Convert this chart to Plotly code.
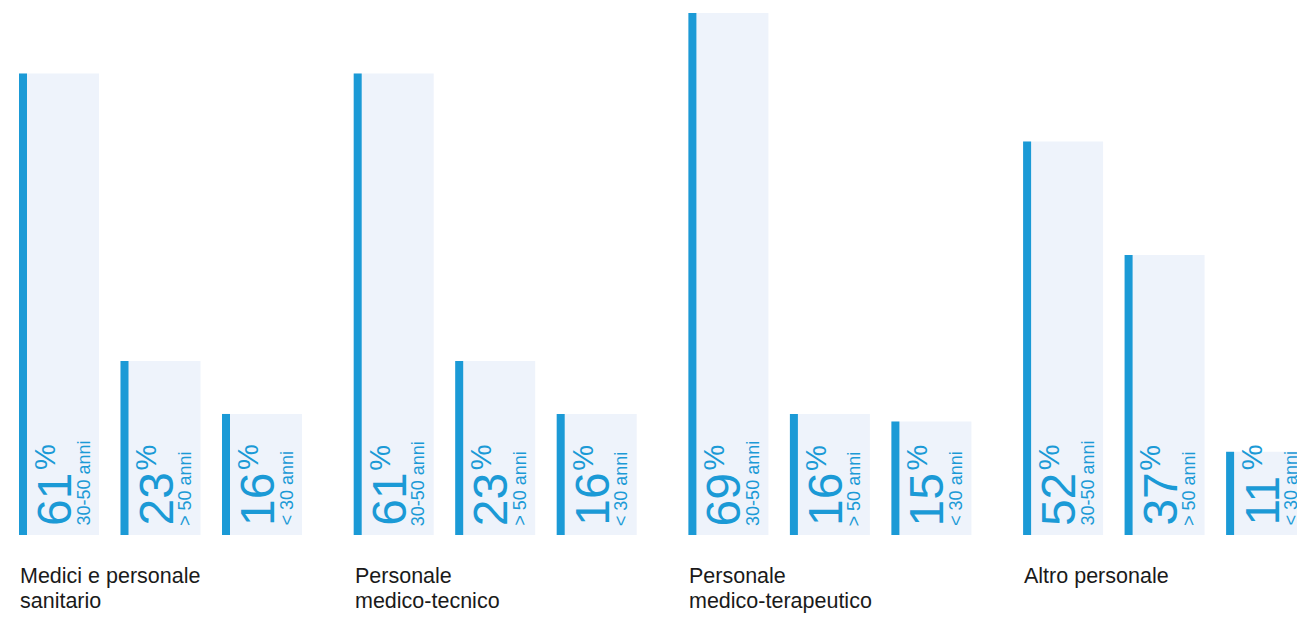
import plotly.graph_objects as go

groups = ["Medici e personale<br>sanitario", "Personale<br>medico-tecnico",
          "Personale<br>medico-terapeutico", "Altro personale"]
age_labels = ["30-50 anni", "> 50 anni", "< 30 anni"]
values = [
    [61, 23, 16],
    [61, 23, 16],
    [69, 16, 15],
    [52, 37, 11],
]

BLUE = "#1b9ad6"
FILL = "#eef3fb"
FONT = "Liberation Sans, Arial, Helvetica, sans-serif"

W, H = 1297, 617
GROUP_STEP = 334.7
BAR_STEP = 101.5
X0 = 19
BAR_W = 80
STRIP_W = 8
NUM_SIZE = 48
PCT_SIZE = 29
LAB_SIZE = 18
CAT_SIZE = 21.5

fill_x, fill_y, strip_x, strip_y = [], [], [], []
annotations = []
for g, (gname, vals) in enumerate(zip(groups, values)):
    gleft = X0 + g * GROUP_STEP
    for b, (v, lab) in enumerate(zip(vals, age_labels)):
        left = gleft + b * BAR_STEP
        fill_x.append(left + BAR_W / 2)
        fill_y.append(v)
        strip_x.append(left + STRIP_W / 2)
        strip_y.append(v)
        num_txt = str(v)
        num_len = 0.556 * NUM_SIZE * len(num_txt)
        annotations.append(dict(
            x=left + 35.5, y=0, xref="x", yref="y", xanchor="center", yanchor="bottom",
            yshift=8, textangle=-90, showarrow=False, borderpad=0,
            text=num_txt, font=dict(size=NUM_SIZE, color=BLUE, family=FONT),
        ))
        annotations.append(dict(
            x=left + 25.5, y=0, xref="x", yref="y", xanchor="center", yanchor="bottom",
            yshift=8 + num_len + 2, textangle=-90, showarrow=False, borderpad=0,
            text="%", font=dict(size=PCT_SIZE, color=BLUE, family=FONT),
        ))
        annotations.append(dict(
            x=left + 64, y=0, xref="x", yref="y", xanchor="center", yanchor="bottom",
            yshift=8, textangle=-90, showarrow=False, borderpad=0,
            text=lab, font=dict(size=LAB_SIZE, color=BLUE, family=FONT),
        ))
    for li, line in enumerate(gname.split("<br>")):
        annotations.append(dict(
            x=gleft, y=0, xref="x", yref="y", xanchor="left", yanchor="top",
            yshift=-27.5 - li * 25, showarrow=False, align="left", text=line, borderpad=0,
            font=dict(size=CAT_SIZE, color="#1a1a1a", family=FONT),
        ))

fig = go.Figure()
fig.add_trace(go.Bar(x=fill_x, y=fill_y, width=BAR_W, marker=dict(color=FILL, line=dict(width=0)),
                     hoverinfo="skip"))
fig.add_trace(go.Bar(x=strip_x, y=strip_y, width=STRIP_W, marker=dict(color=BLUE, line=dict(width=0)),
                     hoverinfo="skip"))

PX_PER_UNIT = 522 / 69
fig.update_layout(
    width=W, height=H, barmode="overlay", showlegend=False,
    margin=dict(l=0, r=0, t=0, b=H - 535),
    paper_bgcolor="white", plot_bgcolor="white",
    xaxis=dict(range=[0, W], visible=False, fixedrange=True),
    yaxis=dict(range=[0, 535 / PX_PER_UNIT], visible=False, fixedrange=True),
    annotations=annotations,
)

fig.write_html("out.html", config={"displayModeBar": False},
               post_script="document.body.style.margin='0px';document.body.style.overflow='hidden';")
